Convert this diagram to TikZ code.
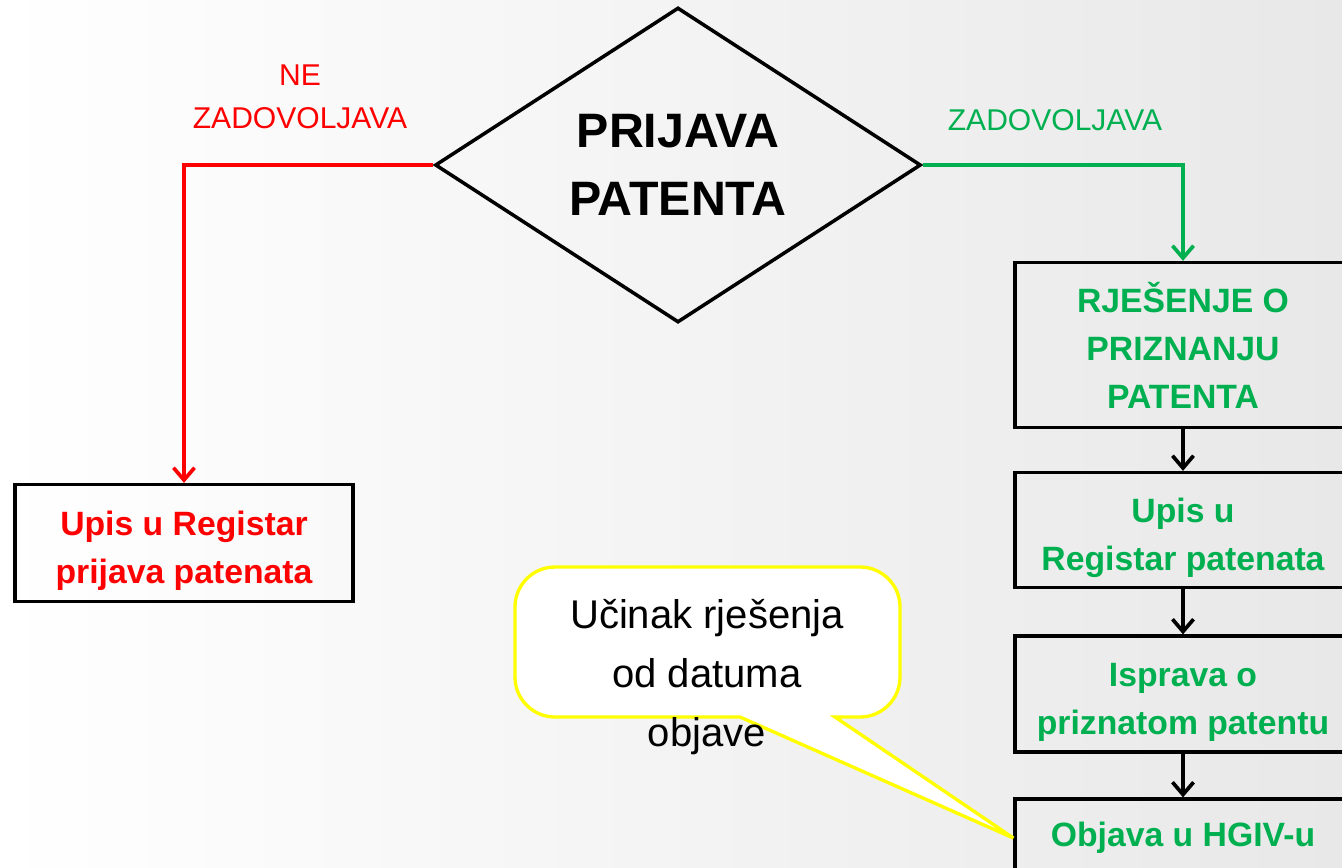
\documentclass[tikz,border=0pt]{standalone}
\usepackage{fontspec}
\setmainfont{Liberation Sans}
\usetikzlibrary{positioning,shapes,arrows.meta}

\definecolor{pgreen}{HTML}{00B050}
\definecolor{pred}{HTML}{FF0000}
\definecolor{pyellow}{HTML}{FFFF00}

\begin{document}
\begin{tikzpicture}[x=0.02cm,y=-0.02cm,
  box/.style={draw,rectangle,line width=1.9pt,align=center,inner sep=0pt,
    font=\fontsize{19.2}{27.3}\selectfont\bfseries},
  lowtext/.style={text height=50pt},
  flow/.style={line width=2.1pt,-{Straight Barb[length=7pt,width=12pt]}}]
  \clip (0,0) rectangle (1342,867);
  \shade[left color=white,middle color=white,right color=black!9] (0,0) rectangle (1342,867);

  \node[draw,diamond,line width=2pt,shape aspect=1.543,minimum width=9.72cm,
    minimum height=6.3cm,inner sep=0pt,align=center,
    font=\fontsize{27.5}{38.7}\selectfont\bfseries] (prijava) at (678,165) {PRIJAVA\\PATENTA};

  \node[box,lowtext,text=pred,minimum width=6.76cm,minimum height=2.34cm] (upisprijava) at (184,543)
    {Upis u Registar\\prijava patenata};

  \node[box,text=pgreen,minimum width=6.72cm,minimum height=3.3cm] (rjesenje) at (1183,345)
    {RJEŠENJE O\\PRIZNANJU\\PATENTA};
  \node[box,lowtext,text=pgreen,minimum width=6.72cm,minimum height=2.3cm] (upisreg) at (1183,530)
    {Upis u\\Registar patenata};
  \node[box,lowtext,text=pgreen,minimum width=6.72cm,minimum height=2.32cm] (isprava) at (1183,694)
    {Isprava o\\priznatom patentu};
  \node[box,text=pgreen,minimum width=6.72cm,minimum height=1.56cm] (objava) at (1183,838)
    {Objava u HGIV-u};

  \draw[flow,pred] (prijava.west) -| (upisprijava.north);
  \draw[flow,pgreen] (prijava.east) -| (rjesenje.north);
  \foreach \s/\t in {rjesenje/upisreg, upisreg/isprava, isprava/objava}
    \draw[flow] (\s) to (\t);

  \node[text=pred,align=center,font=\fontsize{17.1}{24.5}\selectfont] (nezad) at (300,97)
    {NE\\ZADOVOLJAVA};
  \node[text=pgreen,font=\fontsize{17.1}{24.5}\selectfont] (zad) at (1055,120) {ZADOVOLJAVA};

  % callout
  \draw[pyellow,line width=1.9pt,fill=white] (740,717) [rounded corners=0.8cm] -- (515,717)
    -- (515,567) -- (900,567) -- (900,717) [sharp corners] -- (835,717) -- (objava.west) -- cycle;
  \node[align=center,font=\fontsize{22.8}{33.4}\selectfont] (ucinak) at (707,677)
    {Učinak rješenja\\od datuma\\objave};

\end{tikzpicture}
\end{document}
